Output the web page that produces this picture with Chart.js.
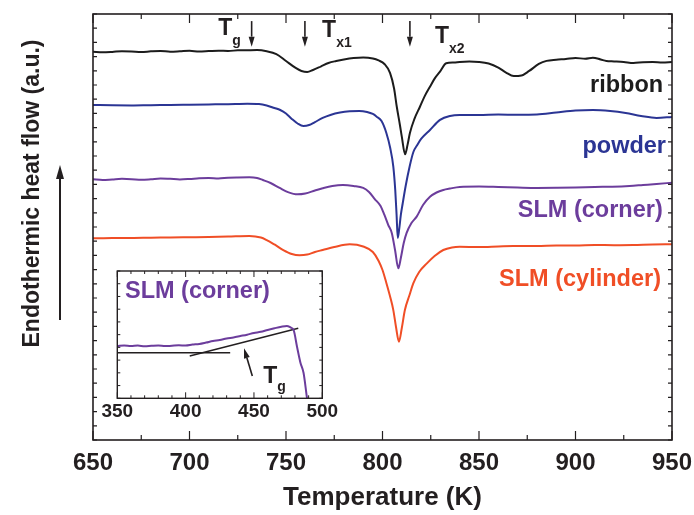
<!DOCTYPE html>
<html>
<head>
<meta charset="utf-8">
<script src="https://cdn.jsdelivr.net/npm/chart.js@4.4.0/dist/chart.umd.min.js"></script>
<style>
html, body { margin: 0; padding: 0; background: #fff; }
#wrap { position: relative; width: 694px; height: 515px; }
#mainChart { position: absolute; left: 0; top: 0; }
#insetChart { position: absolute; left: 95px; top: 262px; }
</style>
</head>
<body>
<div id="wrap">
<canvas id="mainChart" width="694" height="515"></canvas>
<canvas id="insetChart" width="250" height="165"></canvas>
</div>
<script>
// DSC traces: temperature (K) and heat flow (a.u., curves offset)
var ribbon_T = [650, 655, 660, 665, 670, 675, 680, 685, 690, 695, 700, 705, 710, 715, 720, 725, 730, 735, 740, 745,
    750, 755, 758, 761, 764, 768, 772, 776, 780, 785, 790, 795, 798, 801, 803.9, 806, 807.4, 809, 810, 811.7,
    813, 814.2, 816.5, 819.4, 822, 824.6, 827, 829.8, 833, 837, 840, 845, 850, 855, 860, 864, 868, 872, 876, 881,
    885, 890, 895, 900, 905, 909, 913, 916, 920, 925, 930, 935, 940, 945, 950];
var ribbon_Q = [27.35, 27.30, 27.33, 27.38, 27.36, 27.32, 27.37, 27.40, 27.34, 27.37, 27.41, 27.36, 27.39, 27.42, 27.40, 27.44, 27.45, 27.46, 27.38, 27.18,
    26.69, 26.20, 25.99, 25.92, 26.06, 26.30, 26.55, 26.69, 26.80, 26.90, 26.94, 26.87, 26.73, 26.48, 25.85, 24.75, 23.47, 22.20, 21.36, 20.12,
    20.80, 21.62, 22.60, 23.47, 24.25, 24.88, 25.45, 25.94, 26.53, 26.58, 26.62, 26.65, 26.62, 26.51, 26.23, 25.88, 25.63, 25.67, 25.99, 26.48,
    26.70, 26.78, 26.83, 26.90, 26.85, 26.92, 26.80, 26.69, 26.66, 26.62, 26.55, 26.60, 26.62, 26.58, 26.62];

var powder_T = [650, 660, 670, 680, 690, 700, 710, 720, 730, 736, 740, 744, 747, 750, 753, 756, 759, 762, 765, 769,
    773, 778, 783, 788, 792, 795, 797, 799.5, 802, 804, 805.6, 806.6, 807.3, 807.9, 808.6, 809.5, 810.5, 812, 814, 816,
    818, 820, 824.6, 829.8, 835, 840, 850, 860, 870, 880, 890, 900, 909, 918, 926, 934, 942, 950];
var powder_Q = [23.59, 23.57, 23.56, 23.58, 23.59, 23.61, 23.63, 23.65, 23.68, 23.66, 23.56, 23.38, 23.24, 22.99, 22.61, 22.29, 22.11, 22.18, 22.39, 22.68,
    22.89, 23.06, 23.15, 23.17, 23.10, 22.96, 22.77, 22.46, 21.62, 20.56, 19.25, 17.61, 15.85, 14.23, 14.79, 15.85, 16.69, 17.89, 19.23, 20.28,
    20.77, 21.20, 21.83, 22.54, 22.82, 22.89, 22.89, 22.92, 22.90, 22.92, 23.06, 23.20, 23.24, 23.17, 23.03, 22.82, 22.68, 22.75];

var corner_T = [650, 655, 660, 665, 670, 675, 680, 685, 690, 695, 700, 705, 710, 715, 720, 725, 731, 735, 738, 742,
    747, 751, 756, 760, 765, 769, 774, 779.5, 785, 790, 793, 796, 799, 801, 803, 804.8, 806.5, 808.2, 809.5, 811,
    812.5, 815, 817.7, 821, 824.6, 828, 831.5, 835, 840, 850, 860, 870, 880, 890, 900, 910, 919, 928, 935, 942, 950];
var corner_Q = [18.36, 18.31, 18.35, 18.39, 18.37, 18.32, 18.36, 18.42, 18.39, 18.35, 18.38, 18.43, 18.45, 18.42, 18.47, 18.49, 18.50, 18.45, 18.31, 18.10,
    17.73, 17.46, 17.30, 17.36, 17.57, 17.73, 17.89, 17.96, 17.89, 17.75, 17.46, 16.97, 16.48, 15.85, 15.14, 14.58, 13.38, 12.09, 12.82, 13.87,
    14.58, 15.28, 15.73, 16.55, 17.13, 17.43, 17.61, 17.71, 17.82, 17.85, 17.82, 17.78, 17.75, 17.76, 17.78, 17.82, 17.84, 17.89, 17.96, 18.03, 18.12];

var cylinder_T = [650, 660, 670, 680, 690, 700, 710, 720, 731, 737, 740, 744, 748.6, 753, 757, 761, 765, 769, 775, 783,
    790, 795, 798, 800, 802, 804, 805.6, 807, 808.5, 810, 811.6, 814, 816, 819, 823, 827, 831.5, 836, 840, 850,
    860, 867.7, 880, 890, 900, 910, 920, 930, 940, 950];
var cylinder_Q = [14.20, 14.23, 14.23, 14.25, 14.26, 14.28, 14.30, 14.33, 14.37, 14.26, 14.08, 13.77, 13.38, 13.10, 13.01, 13.06, 13.24, 13.38, 13.59, 13.78,
    13.63, 13.24, 12.61, 11.97, 11.06, 10.07, 9.15, 7.96, 6.92, 7.89, 9.15, 10.21, 11.04, 11.83, 12.44, 12.96, 13.38, 13.56, 13.61, 13.59,
    13.63, 13.66, 13.66, 13.70, 13.70, 13.73, 13.72, 13.73, 13.77, 13.78];

// inset: SLM (corner) around the glass transition
var inset_T = [350, 355, 360, 365, 370, 375, 380, 385, 390, 395, 400, 405, 410, 415, 420, 425, 430, 435, 440, 445,
    450, 455, 460, 465, 470, 474, 477, 479, 481.5, 484, 486.3, 488.8, 490];
var inset_Q = [4.11, 4.15, 4.10, 4.14, 4.08, 4.12, 4.15, 4.10, 4.13, 4.16, 4.15, 4.22, 4.27, 4.38, 4.50, 4.58, 4.70, 4.78, 4.89, 5.00,
    5.13, 5.22, 5.37, 5.50, 5.62, 5.68, 5.55, 5.37, 4.05, 2.80, 1.99, 0.02, -0.80];
var base_T = [350, 432.6];
var base_Q = [3.58, 3.58];
var slope_T = [403, 482.4];
var slope_Q = [3.32, 5.50];

var xTicksMain = [650, 700, 750, 800, 850, 900, 950];
var xTicksInset = [350, 400, 450, 500];

var FONT = "'Liberation Sans', Arial, sans-serif";
var INK = '#231f20';
var C_RIBBON = '#1c1c1c', C_POWDER = '#2b3594', C_CORNER = '#6c3d9c', C_CYL = '#f04e26';
Chart.defaults.font.family = FONT;
Chart.defaults.color = INK;

function toXY(xs, ys) {
    return xs.map(function (x, i) { return {x: x, y: ys[i]}; });
}

function line(label, xs, ys, color, width) {
    return {
        label: label, data: toXY(xs, ys), borderColor: color, borderWidth: width,
        pointRadius: 0, fill: false, cubicInterpolationMode: 'monotone'
    };
}

function arrow(ctx, x1, y1, x2, y2, lw, headLen, headW) {
    var ang = Math.atan2(y2 - y1, x2 - x1);
    var bx = x2 - headLen * Math.cos(ang), by = y2 - headLen * Math.sin(ang);
    ctx.lineWidth = lw;
    ctx.beginPath();
    ctx.moveTo(x1, y1);
    ctx.lineTo(bx, by);
    ctx.stroke();
    ctx.beginPath();
    ctx.moveTo(x2, y2);
    ctx.lineTo(bx + headW / 2 * Math.sin(ang), by - headW / 2 * Math.cos(ang));
    ctx.lineTo(bx - headW / 2 * Math.sin(ang), by + headW / 2 * Math.cos(ang));
    ctx.closePath();
    ctx.fill();
}

function subText(ctx, x, y, main, sub, size, subSize, dy) {
    ctx.textAlign = 'left';
    ctx.textBaseline = 'alphabetic';
    ctx.font = 'bold ' + size + 'px ' + FONT;
    ctx.fillText(main, x, y);
    var w = ctx.measureText(main).width;
    ctx.font = 'bold ' + subSize + 'px ' + FONT;
    ctx.fillText(sub, x + w, y + dy);
}

// no extra room for the end tick labels, the padding is set by hand
function fixHeight(h) {
    return function (s) { s.height = h; s.paddingLeft = 0; s.paddingRight = 0; };
}

// frame with inward ticks on all four sides
var frameTicks = {
    id: 'frameTicks',
    afterDatasetsDraw: function (chart, args, o) {
        var ctx = chart.ctx, a = chart.chartArea;
        var xs = chart.scales.x, ys = chart.scales.y;
        ctx.save();
        ctx.strokeStyle = INK;
        ctx.lineWidth = o.tickWidth;
        ctx.beginPath();
        for (var v = xs.min; v <= xs.max + 1e-6; v += o.xMinor) {
            var px = xs.getPixelForValue(v);
            var major = Math.abs((v - xs.min) % o.xMajor) < 1e-6 || Math.abs((v - xs.min) % o.xMajor - o.xMajor) < 1e-6;
            var len = major ? o.majorLen : o.minorLen;
            ctx.moveTo(px, a.bottom); ctx.lineTo(px, a.bottom - len);
            ctx.moveTo(px, a.top); ctx.lineTo(px, a.top + len);
        }
        for (var w = ys.min; w <= ys.max + 1e-6; w += o.yStep) {
            var py = ys.getPixelForValue(w);
            ctx.moveTo(a.left, py); ctx.lineTo(a.left + o.yLen, py);
            ctx.moveTo(a.right, py); ctx.lineTo(a.right - o.yLen, py);
        }
        ctx.stroke();
        ctx.lineWidth = o.frameWidth;
        ctx.strokeRect(a.left, a.top, a.right - a.left, a.bottom - a.top);
        ctx.restore();
    }
};

var mainNotes = {
    id: 'mainNotes',
    afterDraw: function (chart) {
        var ctx = chart.ctx, xs = chart.scales.x, ys = chart.scales.y;
        ctx.save();
        ctx.fillStyle = INK;
        ctx.strokeStyle = INK;

        // transition markers
        subText(ctx, xs.getPixelForValue(714.9), 35, 'T', 'g', 23, 14, 10);
        subText(ctx, xs.getPixelForValue(768.7), 37, 'T', 'x1', 23, 14, 10);
        subText(ctx, xs.getPixelForValue(827.2), 43, 'T', 'x2', 23, 14, 10);
        [732.2, 759.8, 814.2].forEach(function (t) {
            var px = xs.getPixelForValue(t);
            arrow(ctx, px, ys.getPixelForValue(29.5), px, ys.getPixelForValue(27.7), 1.6, 10, 6);
        });

        // curve labels
        ctx.font = 'bold 23.5px ' + FONT;
        ctx.textAlign = 'right';
        ctx.textBaseline = 'alphabetic';
        ctx.fillStyle = C_RIBBON;
        ctx.fillText('ribbon', xs.getPixelForValue(945.4), ys.getPixelForValue(24.53));
        ctx.fillStyle = C_POWDER;
        ctx.fillText('powder', xs.getPixelForValue(946.9), ys.getPixelForValue(20.23));
        ctx.fillStyle = C_CORNER;
        ctx.fillText('SLM (corner)', xs.getPixelForValue(945.2), ys.getPixelForValue(15.68));
        ctx.fillStyle = C_CYL;
        ctx.fillText('SLM (cylinder)', xs.getPixelForValue(944.3), ys.getPixelForValue(10.85));

        // y axis title and the "endothermic up" arrow
        ctx.fillStyle = INK;
        ctx.save();
        ctx.translate(33, 193.5);
        ctx.rotate(-Math.PI / 2);
        ctx.font = 'bold 23px ' + FONT;
        ctx.textAlign = 'center';
        ctx.textBaseline = 'middle';
        ctx.fillText('Endothermic heat flow (a.u.)', 0, 0);
        ctx.restore();
        arrow(ctx, 60, ys.getPixelForValue(8.45), 60, ys.getPixelForValue(19.37), 2, 14, 8);
        ctx.restore();
    }
};

var insetNotes = {
    id: 'insetNotes',
    afterDraw: function (chart) {
        var ctx = chart.ctx, xs = chart.scales.x, ys = chart.scales.y;
        ctx.save();
        ctx.fillStyle = C_CORNER;
        ctx.font = 'bold 23.5px ' + FONT;
        ctx.textAlign = 'left';
        ctx.textBaseline = 'alphabetic';
        ctx.fillText('SLM (corner)', xs.getPixelForValue(355.6), ys.getPixelForValue(7.9));
        ctx.fillStyle = INK;
        ctx.strokeStyle = INK;
        arrow(ctx, xs.getPixelForValue(448.8), ys.getPixelForValue(1.75),
            xs.getPixelForValue(442.7), ys.getPixelForValue(3.93), 1.6, 10, 6);
        subText(ctx, xs.getPixelForValue(456.8), ys.getPixelForValue(1.23), 'T', 'g', 23, 14, 8);
        ctx.restore();
    }
};

new Chart(document.getElementById('mainChart').getContext('2d'), {
    type: 'line',
    data: {
        datasets: [
            line('ribbon', ribbon_T, ribbon_Q, C_RIBBON, 2),
            line('powder', powder_T, powder_Q, C_POWDER, 2),
            line('SLM (corner)', corner_T, corner_Q, C_CORNER, 2),
            line('SLM (cylinder)', cylinder_T, cylinder_Q, C_CYL, 2)
        ]
    },
    options: {
        responsive: false,
        animation: false,
        devicePixelRatio: 1,
        layout: {padding: {top: 14, right: 22, left: 0, bottom: 0}},
        plugins: {
            legend: {display: false},
            tooltip: {enabled: false},
            frameTicks: {xMinor: 25, xMajor: 50, majorLen: 9, minorLen: 5, yStep: 1, yLen: 4, tickWidth: 1.2, frameWidth: 1.6}
        },
        scales: {
            x: {
                type: 'linear', min: 650, max: 950,
                afterBuildTicks: function (s) { s.ticks = xTicksMain.map(function (v) { return {value: v}; }); },
                afterFit: fixHeight(75),
                grid: {display: false, drawTicks: false},
                border: {display: false},
                ticks: {padding: 8.5, font: {size: 24, weight: 'bold'}, color: INK, maxRotation: 0},
                title: {display: true, text: 'Temperature (K)', font: {size: 26, weight: 'bold'}, color: INK, padding: {top: 0, bottom: 2}}
            },
            y: {
                type: 'linear', min: 0, max: 30,
                afterFit: function (s) { s.width = 93; },
                grid: {display: false, drawTicks: false},
                border: {display: false},
                ticks: {display: false}
            }
        }
    },
    plugins: [frameTicks, mainNotes]
});

new Chart(document.getElementById('insetChart').getContext('2d'), {
    type: 'line',
    data: {
        datasets: [
            line('SLM (corner)', inset_T, inset_Q, C_CORNER, 2),
            line('baseline', base_T, base_Q, INK, 1.4),
            line('tangent', slope_T, slope_Q, INK, 1.4)
        ]
    },
    options: {
        responsive: false,
        animation: false,
        devicePixelRatio: 1,
        layout: {padding: {top: 9, right: 22.7, left: 0, bottom: 0}},
        plugins: {
            legend: {display: false},
            tooltip: {enabled: false},
            frameTicks: {xMinor: 10, xMajor: 50, majorLen: 6, minorLen: 3, yStep: 1, yLen: 3, tickWidth: 1, frameWidth: 1.4}
        },
        scales: {
            x: {
                type: 'linear', min: 350, max: 500,
                afterBuildTicks: function (s) { s.ticks = xTicksInset.map(function (v) { return {value: v}; }); },
                afterFit: fixHeight(28.7),
                grid: {display: false, drawTicks: false},
                border: {display: false},
                ticks: {padding: 2, font: {size: 19, weight: 'bold'}, color: INK, maxRotation: 0}
            },
            y: {
                type: 'linear', min: 0, max: 10,
                afterFit: function (s) { s.width = 22.3; },
                grid: {display: false, drawTicks: false},
                border: {display: false},
                ticks: {display: false}
            }
        }
    },
    plugins: [frameTicks, insetNotes]
});
</script>
</body>
</html>
